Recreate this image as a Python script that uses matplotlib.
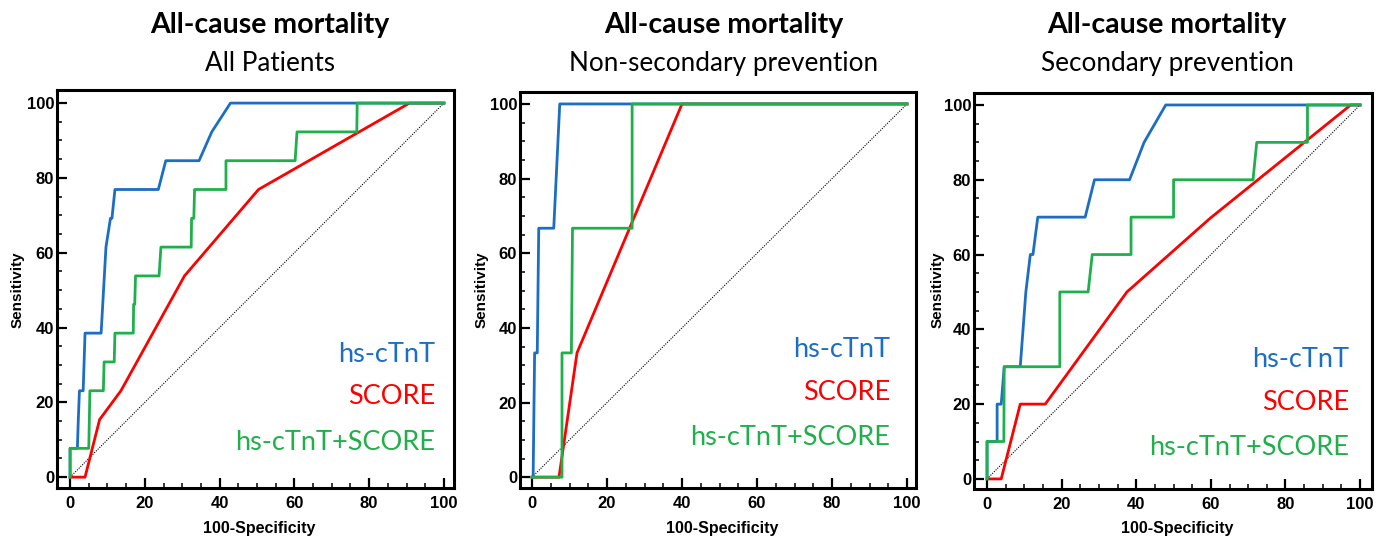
import matplotlib
matplotlib.use("Agg")
import matplotlib.pyplot as plt
from matplotlib.ticker import MultipleLocator

# curve colours
BLUE = "#1B6EC2"
RED = "#FF0000"
GREEN = "#1FB04B"

titles = ["All Patients", "Non-secondary prevention", "Secondary prevention"]
legend_names = ["hs-cTnT", "SCORE", "hs-cTnT+SCORE"]

# ---- All patients ----
p1_tnt_x = [0, 0, 1.95, 2.2, 2.5, 3.5, 4.0, 8.3, 9.6, 10.8, 11.2, 12.0, 23.6, 25.6, 34.5, 37.9, 42.9, 100]
p1_tnt_y = [0, 7.7, 7.7, 15.4, 23.1, 23.1, 38.5, 38.5, 61.5, 69.2, 69.2, 76.9, 76.9, 84.6, 84.6, 92.3, 100, 100]
p1_score_x = [0, 4.0, 7.9, 13.6, 30.6, 50.4, 90.8, 100]
p1_score_y = [0, 0, 15.4, 23.1, 53.8, 76.9, 100, 100]
p1_comb_x = [0, 0, 5.0, 5.3, 8.9, 9.1, 11.8, 12.0, 16.9, 17.0, 17.3, 17.5, 23.8, 24.3, 32.4, 32.5, 33.1, 33.3,
             41.7, 41.7, 60.2, 60.7, 76.7, 76.8, 100]
p1_comb_y = [0, 7.7, 7.7, 23.1, 23.1, 30.8, 30.8, 38.5, 38.5, 46.2, 46.2, 53.8, 53.8, 61.5, 61.5, 69.2, 69.2, 76.9,
             76.9, 84.6, 84.6, 92.3, 92.3, 100, 100]

# ---- Non-secondary prevention ----
p2_tnt_x = [0, 0.3, 0.7, 1.4, 1.8, 5.8, 7.4, 100]
p2_tnt_y = [0, 0, 33.3, 33.3, 66.7, 66.7, 100, 100]
p2_score_x = [0, 7.2, 12.0, 40.0, 100]
p2_score_y = [0, 0, 33.3, 100, 100]
p2_comb_x = [0, 8.0, 8.0, 10.5, 10.8, 26.7, 26.7, 100]
p2_comb_y = [0, 0, 33.3, 33.3, 66.7, 66.7, 100, 100]

# ---- Secondary prevention ----
p3_tnt_x = [0, 0, 2.7, 2.7, 3.8, 4.6, 8.9, 10.4, 11.6, 12.3, 13.6, 26.3, 28.8, 38.2, 42.1, 47.9, 100]
p3_tnt_y = [0, 10, 10, 20, 20, 30, 30, 50, 60, 60, 70, 70, 80, 80, 90, 100, 100]
p3_score_x = [0, 3.8, 8.9, 15.6, 37.5, 59.8, 97.5, 100]
p3_score_y = [0, 0, 20, 20, 50, 69.7, 100, 100]
p3_comb_x = [0, 0, 4.5, 4.6, 19.5, 19.5, 27.1, 28.2, 38.6, 38.6, 50.0, 50.0, 71.3, 72.3, 85.9, 85.9, 100]
p3_comb_y = [0, 10, 10, 30, 30, 50, 50, 60, 60, 70, 70, 80, 80, 90, 90, 100, 100]

panels = [
    (p1_tnt_x, p1_tnt_y, p1_score_x, p1_score_y, p1_comb_x, p1_comb_y),
    (p2_tnt_x, p2_tnt_y, p2_score_x, p2_score_y, p2_comb_x, p2_comb_y),
    (p3_tnt_x, p3_tnt_y, p3_score_x, p3_score_y, p3_comb_x, p3_comb_y),
]

W, H = 1386, 539
fig = plt.figure(figsize=(W / 100, H / 100), dpi=100)

# axes boxes in pixels: left, right, top, bottom, plus data limits
boxes = [
    (57, 454, 90, 488, (-3.5, 102.7), (-2.9, 103.5)),
    (520, 916, 92, 488, (-3.2, 102.4), (-2.9, 103.2)),
    (974, 1372, 93, 489, (-3.5, 103.2), (-2.7, 103.2)),
]
title_x = [270, 724, 1167]
ylabel_x = [18, 482, 938]
legend_pos = [(97.6, [30.7, 19.5, 7.2]), (95.6, [32.2, 20.6, 8.6]), (97.0, [30.0, 18.4, 6.4])]

for i, (tx, ty, sx, sy, cx, cy) in enumerate(panels):
    l, r, t, b, xl, yl = boxes[i]
    ax = fig.add_axes([l / W, 1 - b / H, (r - l) / W, (b - t) / H])

    ax.plot([0, 100], [0, 100], color="black", lw=0.8, ls=(0, (1, 1.2)))
    ax.plot(sx, sy, color=RED, lw=2)
    ax.plot(tx, ty, color=BLUE, lw=2)
    ax.plot(cx, cy, color=GREEN, lw=2)

    ax.set_xlim(xl)
    ax.set_ylim(yl)
    ax.xaxis.set_major_locator(MultipleLocator(20))
    ax.xaxis.set_minor_locator(MultipleLocator(5))
    ax.yaxis.set_major_locator(MultipleLocator(20))
    ax.yaxis.set_minor_locator(MultipleLocator(5))
    ax.tick_params(which="major", direction="in", length=7, width=1.6, pad=2)
    ax.tick_params(which="minor", direction="in", length=3.5, width=1.1)
    ax.tick_params(axis="x", which="major", pad=6)
    for lab in ax.get_xticklabels() + ax.get_yticklabels():
        lab.set_fontfamily("Liberation Sans")
        lab.set_fontweight("bold")
        lab.set_fontsize(12)
    for sp in ax.spines.values():
        sp.set_linewidth(2.2)

    fig.text(ylabel_x[i] / W, 1 - 290 / H, "Sensitivity", rotation=90, ha="center", va="center",
             family="Liberation Sans", weight="bold", fontsize=11)
    fig.text((l + r) / 2 / W + 0.003, 1 - 528 / H, "100-Specificity", ha="center", va="center",
             family="Liberation Sans", weight="bold", fontsize=11.5)

    # titles
    fig.text(title_x[i] / W, 1 - 33 / H, "All-cause mortality", ha="center", va="baseline",
             family="Lato", weight="bold", fontsize=20.5)
    fig.text(title_x[i] / W, 1 - 71 / H, titles[i], ha="center", va="baseline",
             family="Lato", fontsize=18.8)

    # coloured labels instead of a legend
    lx, lys = legend_pos[i]
    for name, col, ly in zip(legend_names, [BLUE, RED, GREEN], lys):
        ax.text(lx, ly, name, color=col, ha="right", va="baseline", family="Lato", fontsize=19.5)

fig.savefig("out.png", dpi=100)
